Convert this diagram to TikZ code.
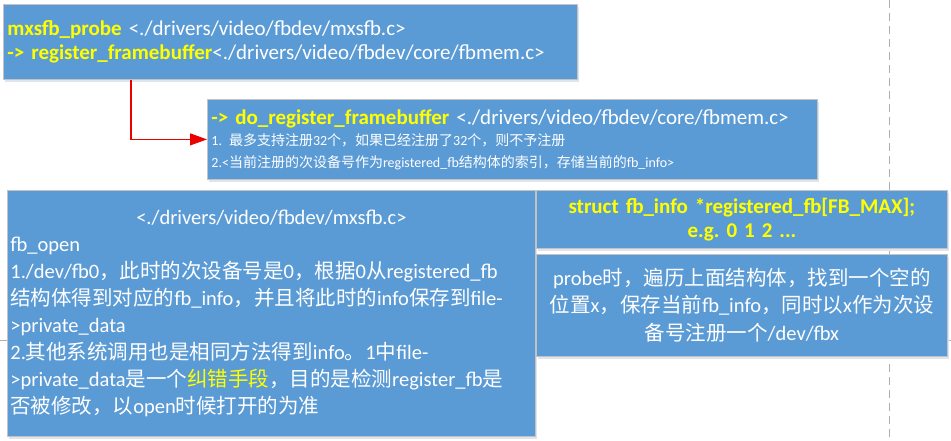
\documentclass[tikz,border=0pt]{standalone}
\usepackage{fontspec}
\setmainfont{Carlito}
\newfontfamily\cjk{Noto Sans CJK SC}
\usepackage{tikz}
\usetikzlibrary{arrows.meta,positioning,shadows}
\definecolor{fbblue}{RGB}{91,155,213}
\definecolor{fbgrey}{RGB}{195,195,195}
\definecolor{fbyellow}{RGB}{255,255,0}
\definecolor{fbred}{RGB}{235,0,0}
\definecolor{fbshade}{RGB}{222,229,239}
\definecolor{fbline}{RGB}{175,175,175}
\newcommand{\zh}[1]{{\cjk #1}}
\newcommand{\yel}[1]{\textcolor{fbyellow}{#1}}
\tikzstyle{fbbox} = [rectangle, draw=fbgrey, fill=fbblue, line width=0.8pt, text=white, anchor=north west, drop shadow={shadow xshift=1.5pt, shadow yshift=-2.5pt, fill=fbshade, opacity=1}]
\tikzstyle{callarrow} = [line width=1.2pt, color=fbred, -{Triangle[length=17pt,width=12pt]}]
\tikzstyle{laneline} = [line width=0.8pt, color=fbline, dash pattern=on 8pt off 5pt]
\tikzstyle{rowline} = [line width=0.8pt, color=fbline]

\begin{document}
\frenchspacing
\begin{tikzpicture}[x=1pt, y=-1pt]
\useasboundingbox (0,0) rectangle (951,441);
% Background lines
\coordinate (lanetop) at (889,0);
\coordinate (lanebot) at (889,441);
\coordinate (rowleft) at (0,340);
\coordinate (rowright) at (951,340);
\draw[laneline] (lanetop) -- (lanebot);
\draw[rowline] (rowleft) -- (rowright);

% Probe call chain
\node (probefn) [fbbox, minimum width=574pt, minimum height=75pt, text width=566pt, inner xsep=4pt, align=left, font=\fontsize{21}{24.5}\selectfont] at (3,4) {\yel{\textbf{mxsfb\_probe}} <./drivers/video/fbdev/mxsfb.c>\\
\yel{\textbf{-> register\_framebuffer}}<./drivers/video/fbdev/core/fbmem.c>};
\node (doreg) [fbbox, minimum width=610pt, minimum height=80pt, text width=602pt, inner xsep=4pt, align=left, font=\fontsize{21}{21.5}\selectfont] at (207,99) {\yel{\textbf{-> do\_register\_framebuffer}} <./drivers/video/fbdev/core/fbmem.c>\\
{\fontsize{14}{21}\selectfont 1. \zh{最多支持注册}32\zh{个，如果已经注册了}32\zh{个，则不予注册}}\\
{\fontsize{14}{21}\selectfont 2.<\zh{当前注册的次设备号作为}registered\_fb\zh{结构体的索引，存储当前的}fb\_info>}};
\draw[callarrow] ([xshift=128pt]probefn.south west) |- (doreg.west);

% Open path
\node (fbopen) [fbbox, minimum width=528pt, minimum height=246pt, text width=522pt, inner xsep=3pt, align=left, font=\fontsize{20.5}{27}\selectfont] at (7,190) {\makebox[\linewidth]{<./drivers/video/fbdev/mxsfb.c>}\\
fb\_open\\
1./dev/fb0\zh{，此时的次设备号是}0\zh{，根据}0\zh{从}registered\_fb\\
\zh{结构体得到对应的}fb\_info\zh{，并且将此时的}info\zh{保存到}file-\\
>private\_data\\
2.\zh{其他系统调用也是相同方法得到}info\zh{。}1\zh{中}file-\\
>private\_data\zh{是一个}\yel{\zh{纠错手段}}\zh{，目的是检测}register\_fb\zh{是}\\
\zh{否被修改，以}open\zh{时候打开的为准}};

% Registered array
\node (fbarray) [fbbox, minimum width=411pt, minimum height=58pt, text width=403pt, align=center, text=fbyellow, font=\fontsize{21}{24}\selectfont\bfseries] at (536,190) {struct fb\_info *registered\_fb[FB\_MAX];\\
e.g. 0 1 2 ...};
\node (fbslot) [fbbox, minimum width=411pt, minimum height=102pt, text width=403pt, align=center, font=\fontsize{20.5}{27.5}\selectfont, below=5pt of fbarray.south, anchor=north] {probe\zh{时，遍历上面结构体，找到一个空的}\\
\zh{位置}x\zh{，保存当前}fb\_info\zh{，同时以}x\zh{作为次设}\\
\zh{备号注册一个}/dev/fbx};
\end{tikzpicture}
\end{document}
